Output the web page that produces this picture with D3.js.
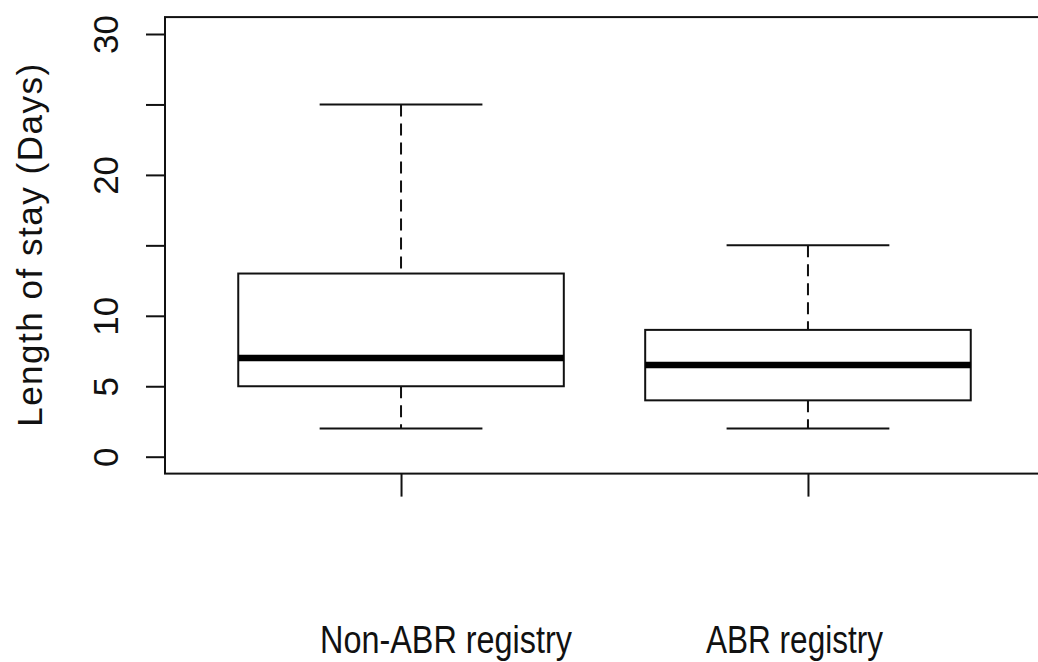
<!DOCTYPE html>
<html>
<head>
<meta charset="utf-8">
<script src="https://cdn.jsdelivr.net/npm/d3@7"></script>
<style>
  html, body { margin: 0; padding: 0; background: #fff; }
  svg { display: block; }
</style>
</head>
<body>
<svg id="chart" width="1038" height="662"></svg>
<script>
// Length of stay by registry group (five-number summaries)
const groups      = ["Non-ABR registry", "ABR registry"];
const whiskerLow  = [2, 2];
const quart1      = [5, 4];
const medians     = [7, 6.5];
const quart3      = [13, 9];
const whiskerHigh = [25, 15];
const yTicks      = [0, 5, 10, 15, 20, 25, 30];
const yTickLabels = ["0", "5", "10", "", "20", "", "30"];
const yTitle      = "Length of stay (Days)";

const svg = d3.select("#chart");

// Scales: groups sit at 1 and 2, axes padded like base graphics
const x = d3.scaleLinear().domain([0.42, 2.58]).range([165, 1044]);
const y = d3.scaleLinear().domain([0, 30]).range([456.7, 34]);
const boxHalf = 0.4, capHalf = 0.2;

const data = groups.map((g, i) => ({
  g, pos: i + 1,
  lo: whiskerLow[i], q1: quart1[i], med: medians[i], q3: quart3[i], hi: whiskerHigh[i]
}));

// Plot frame
const fTop = y(31.2), fBot = y(-1.2), fLeft = x(0.42), fRight = x(2.58);
svg.append("rect")
  .attr("x", fLeft).attr("y", fTop)
  .attr("width", fRight - fLeft).attr("height", fBot - fTop)
  .attr("fill", "none").attr("stroke", "#111").attr("stroke-width", 2);

// Y axis
const yAxis = d3.axisLeft(y)
  .tickValues(yTicks)
  .tickSize(19)
  .tickPadding(0)
  .tickFormat((d, i) => yTickLabels[i]);
const ga = svg.append("g").attr("transform", `translate(${fLeft},0)`).call(yAxis);
ga.select(".domain").remove();
ga.selectAll(".tick line").attr("stroke", "#111").attr("stroke-width", 2);
ga.selectAll(".tick text")
  .attr("x", null).attr("dy", null)
  .attr("transform", "translate(-47,0) rotate(-90)")
  .attr("text-anchor", "middle")
  .attr("fill", "#111")
  .style("font-family", "Liberation Sans, Arial, sans-serif")
  .style("font-size", "35px");

// X axis ticks (labels placed separately below)
const xAxis = d3.axisBottom(x).tickValues(data.map(d => d.pos)).tickSize(23).tickFormat("");
const gx = svg.append("g").attr("transform", `translate(0,${fBot})`).call(xAxis);
gx.select(".domain").remove();
gx.selectAll(".tick line").attr("stroke", "#111").attr("stroke-width", 2);

// Boxes
const box = svg.append("g").selectAll("g").data(data).join("g");

// dashed whiskers
box.append("line")
  .attr("x1", d => x(d.pos)).attr("x2", d => x(d.pos))
  .attr("y1", d => y(d.hi)).attr("y2", d => y(d.q3))
  .attr("stroke", "#111").attr("stroke-width", 2).attr("stroke-dasharray", "12,7");
box.append("line")
  .attr("x1", d => x(d.pos)).attr("x2", d => x(d.pos))
  .attr("y1", d => y(d.q1)).attr("y2", d => y(d.lo))
  .attr("stroke", "#111").attr("stroke-width", 2).attr("stroke-dasharray", "12,7");

// staples
["lo", "hi"].forEach(k => {
  box.append("line")
    .attr("x1", d => x(d.pos - capHalf)).attr("x2", d => x(d.pos + capHalf))
    .attr("y1", d => y(d[k])).attr("y2", d => y(d[k]))
    .attr("stroke", "#111").attr("stroke-width", 2);
});

// box body
box.append("rect")
  .attr("x", d => x(d.pos - boxHalf))
  .attr("width", d => x(d.pos + boxHalf) - x(d.pos - boxHalf))
  .attr("y", d => y(d.q3))
  .attr("height", d => y(d.q1) - y(d.q3))
  .attr("fill", "#fff").attr("stroke", "#111").attr("stroke-width", 2);

// median
box.append("line")
  .attr("x1", d => x(d.pos - boxHalf)).attr("x2", d => x(d.pos + boxHalf))
  .attr("y1", d => y(d.med)).attr("y2", d => y(d.med))
  .attr("stroke", "#000").attr("stroke-width", 6.5);

// Y title
svg.append("text")
  .attr("transform", `translate(42,${(fTop + fBot) / 2}) rotate(-90)`)
  .attr("text-anchor", "middle")
  .attr("fill", "#111")
  .attr("textLength", 363).attr("lengthAdjust", "spacing")
  .style("font-family", "Liberation Sans, Arial, sans-serif")
  .style("font-size", "35px")
  .text(yTitle);

// Group labels, set in a condensed face
const labelX = [320, 706];
const labelW = [252, 177];
svg.append("g").selectAll("text").data(data).join("text")
  .attr("x", (d, i) => labelX[i])
  .attr("y", 653)
  .attr("text-anchor", "start")
  .attr("fill", "#111")
  .attr("textLength", (d, i) => labelW[i])
  .attr("lengthAdjust", "spacingAndGlyphs")
  .style("font-family", "Liberation Sans Narrow, Arial Narrow, Liberation Sans, sans-serif")
  .style("font-size", "39px")
  .text(d => d.g);
</script>
</body>
</html>
